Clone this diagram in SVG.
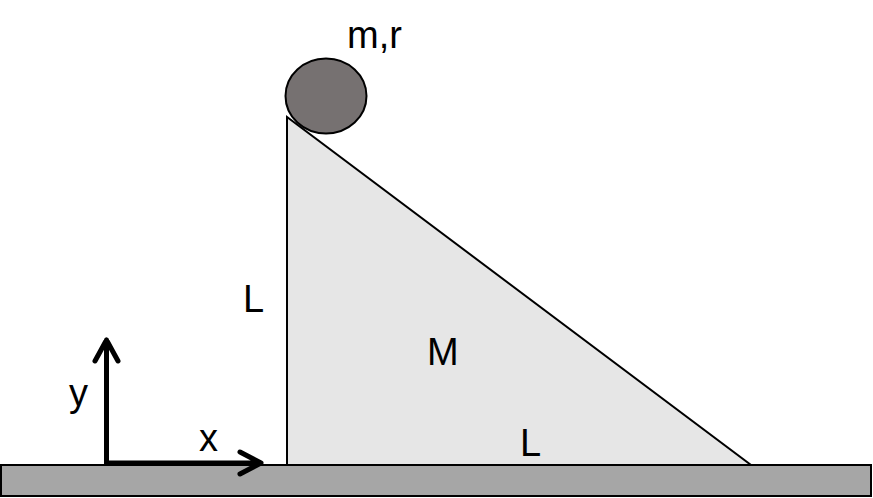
<svg xmlns="http://www.w3.org/2000/svg" width="873" height="498" viewBox="0 0 873 498">
<style>
text{font-family:"Liberation Sans",Arial,sans-serif;font-size:38px;fill:#000}
.axis{fill:none;stroke:#000;stroke-width:5;stroke-linecap:round;stroke-linejoin:round}
</style>
<rect width="873" height="498" fill="#fff"/>
<g id="ground">
<rect x="1" y="465" width="870" height="31" fill="#a6a6a6" stroke="#000" stroke-width="2"/>
</g>
<g id="wedge">
<polygon points="287,117 287,465 751,465" fill="#e6e6e6" stroke="#000" stroke-width="2" stroke-linejoin="miter"/>
<text x="243" y="312">L</text>
<text x="427" y="365">M</text>
<text x="520" y="456">L</text>
</g>
<g id="ball">
<ellipse cx="326" cy="96" rx="40.5" ry="37.5" fill="#767171" stroke="#000" stroke-width="2"/>
<text x="347" y="48">m,r</text>
</g>
<g id="axes">
<path class="axis" d="M106.5,463 V340 M95,361 L106.5,340 L118,361"/>
<path class="axis" d="M106.5,463 H261 M240,452 L261,463 L240,474"/>
<text x="69" y="406">y</text>
<text x="199" y="451">x</text>
</g>
</svg>
